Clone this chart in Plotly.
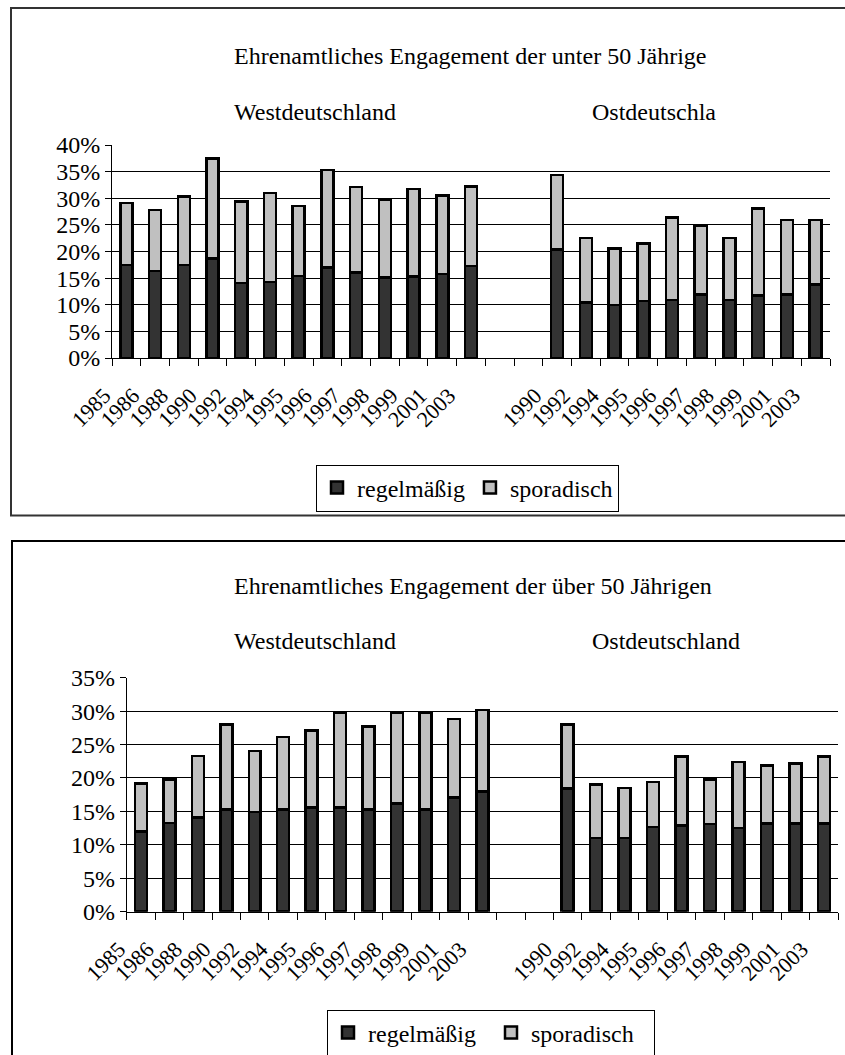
import plotly.graph_objects as go

# ---------------- data ----------------
west_years = ["1985", "1986", "1988", "1990", "1992", "1994", "1995", "1996", "1997", "1998", "1999", "2001", "2003"]
east_years = ["1990", "1992", "1994", "1995", "1996", "1997", "1998", "1999", "2001", "2003"]

# unter 50 Jährige (total = regelmäßig + sporadisch), in %
u50_west_regel = [17.5, 16.3, 17.5, 18.7, 14.1, 14.3, 15.4, 17.0, 16.1, 15.1, 15.3, 15.8, 17.3]
u50_west_total = [29.1, 27.8, 30.3, 37.5, 29.4, 31.0, 28.5, 35.3, 32.1, 29.8, 31.7, 30.5, 32.2]
u50_east_regel = [20.4, 10.4, 10.0, 10.7, 10.9, 11.9, 10.9, 11.7, 11.9, 13.8]
u50_east_total = [34.4, 22.5, 20.6, 21.5, 26.4, 24.9, 22.5, 28.1, 25.9, 25.9]

# über 50 Jährige
o50_west_regel = [12.0, 13.3, 14.1, 15.3, 14.9, 15.3, 15.6, 15.6, 15.3, 16.2, 15.3, 17.1, 18.0]
o50_west_total = [19.2, 19.8, 23.3, 28.0, 24.0, 26.1, 27.1, 29.8, 27.7, 29.8, 29.8, 28.8, 30.2]
o50_east_regel = [18.4, 11.0, 11.0, 12.7, 12.9, 13.1, 12.5, 13.2, 13.2, 13.2]
o50_east_total = [28.0, 19.0, 18.5, 19.4, 23.2, 19.8, 22.4, 21.9, 22.2, 23.2]

series_names = ["regelmäßig", "sporadisch"]
y_ticks_top = [0, 5, 10, 15, 20, 25, 30, 35, 40]
y_ticks_bottom = [0, 5, 10, 15, 20, 25, 30, 35]

# ---------------- layout helpers ----------------
W, H = 845, 1055
FONT = "Liberation Serif"
FS = 24
DARK = "#333333"
LIGHT = "#C0C0C0"
GAP = 2  # empty category slots between West and East

def px(x):
    return x / W

def py(y):
    return 1 - y / H

west_x = list(range(len(west_years)))
east_x = [len(west_years) + GAP + i for i in range(len(east_years))]
all_x = west_x + east_x
all_labels = west_years + east_years
n_slots = len(west_years) + GAP + len(east_years)

fig = go.Figure()

def add_chart(xa, ya, legend, wr, wt, er, et):
    regel = wr + er
    spor = [round(t - r, 2) for t, r in zip(wt + et, wr + er)]
    fig.add_trace(go.Bar(x=all_x, y=regel, name=series_names[0], xaxis=xa, yaxis=ya,
                         marker=dict(color=DARK, line=dict(color="black", width=2.5)),
                         legend=legend, hoverinfo="skip"))
    fig.add_trace(go.Bar(x=all_x, y=spor, name=series_names[1], xaxis=xa, yaxis=ya,
                         marker=dict(color=LIGHT, line=dict(color="black", width=2.5)),
                         legend=legend, hoverinfo="skip"))

add_chart("x", "y", "legend", u50_west_regel, u50_west_total, u50_east_regel, u50_east_total)
add_chart("x2", "y2", "legend2", o50_west_regel, o50_west_total, o50_east_regel, o50_east_total)

xcommon = dict(range=[-0.5, n_slots - 0.5], tickmode="array", tickvals=all_x, ticktext=all_labels,
               tickangle=-45, ticks="", showgrid=False, zeroline=False, automargin=False,
               showline=True, linecolor="black", linewidth=1,
               ticklabelshift=-22, ticklabelstandoff=15,
               minor=dict(tick0=-0.5, dtick=1, ticks="outside", ticklen=7, tickcolor="black",
                          tickwidth=1, showgrid=False),
               tickfont=dict(family=FONT, size=22, color="black"), fixedrange=True)

def ycommon(ticks, top):
    return dict(range=[0, top], tickmode="array", tickvals=ticks, automargin=False,
                ticktext=[f"{t}%" for t in ticks], ticks="outside", ticklen=6, tickcolor="black",
                showgrid=True, gridcolor="black", gridwidth=1, zeroline=False,
                showline=True, linecolor="black", linewidth=1,
                tickfont=dict(family=FONT, size=FS, color="black"), fixedrange=True)

legend_common = dict(orientation="h", xanchor="center", yanchor="middle",
                     bordercolor="black", borderwidth=1, bgcolor="white",
                     font=dict(family=FONT, size=FS, color="black"), itemwidth=30,
                     traceorder="normal", tracegroupgap=0)

fig.update_layout(
    width=W, height=H, margin=dict(l=0, r=0, t=0, b=0, pad=0, autoexpand=False),
    paper_bgcolor="white", plot_bgcolor="white",
    barmode="stack", bargap=0.58,
    font=dict(family=FONT, size=FS, color="black"),
    xaxis=dict(domain=[px(112), px(830)], anchor="y", **xcommon),
    yaxis=dict(domain=[py(358), py(145)], anchor="x", **ycommon(y_ticks_top, 40)),
    xaxis2=dict(domain=[px(126.7), px(838)], anchor="y2", **xcommon),
    yaxis2=dict(domain=[py(911.7), py(677.7)], anchor="x2", **ycommon(y_ticks_bottom, 35)),
    legend=dict(x=px(467.5), y=py(488), **legend_common),
    legend2=dict(x=px(491), y=py(1033), entrywidth=118, entrywidthmode="pixels", **legend_common),
    showlegend=True,
    hovermode=False,
)

def note(text, x, y):
    fig.add_annotation(text=text, x=px(x), y=py(y), xref="paper", yref="paper",
                       xanchor="left", yanchor="middle", showarrow=False,
                       font=dict(family=FONT, size=FS, color="black"))

note("Ehrenamtliches Engagement der unter 50 Jährige", 232, 56)
note("Westdeutschland", 232, 112)
note("Ostdeutschla", 590, 112)
note("Ehrenamtliches Engagement der über 50 Jährigen", 232, 586)
note("Westdeutschland", 232, 641)
note("Ostdeutschland", 590, 641)

# outer frames
fig.add_shape(type="rect", xref="paper", yref="paper", x0=px(11), x1=px(860), y0=py(515.5), y1=py(8),
              line=dict(color="#333333", width=2), fillcolor="rgba(0,0,0,0)", layer="below")
fig.add_shape(type="rect", xref="paper", yref="paper", x0=px(12), x1=px(860), y0=py(1070), y1=py(541),
              line=dict(color="black", width=2), fillcolor="rgba(0,0,0,0)", layer="below")

fig.write_html("out.html", config={"displayModeBar": False},
               post_script="document.body.style.margin='0';")
